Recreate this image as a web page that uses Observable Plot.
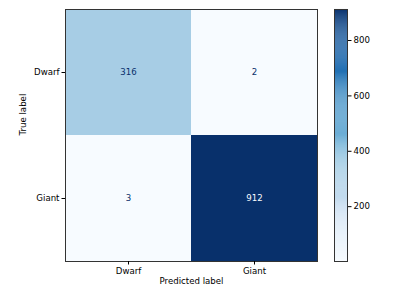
<!DOCTYPE html>
<html><head><meta charset="utf-8">
<script src="https://cdn.jsdelivr.net/npm/d3@7"></script>
<script src="https://cdn.jsdelivr.net/npm/@observablehq/plot@0.6"></script>
<style>
body{margin:0;background:#fff;}
#wrap{position:relative;width:397px;height:298px;}
#wrap svg{position:absolute;left:0;top:0;background:transparent;}
</style></head>
<body><div id="wrap"></div>
<script>
const trueLabels = ["Dwarf","Giant"];
const predLabels = ["Dwarf","Giant"];
const counts = [[316, 2],[3, 912]];
const cbTicks = [200,400,600,800];

const cells = [];
trueLabels.forEach((t,i)=>predLabels.forEach((p,j)=>cells.push({t,p,v:counts[i][j]})));
const vmin = d3.min(cells,d=>d.v), vmax = d3.max(cells,d=>d.v);
const thr = (vmin+vmax)/2;
const font = "DejaVu Sans, sans-serif";
const W=397,H=298;
const colorOpt = {type:"linear", scheme:"Blues", domain:[vmin,vmax]};

const heat = Plot.plot({
  width:W, height:H,
  marginLeft:65, marginRight:80, marginTop:9, marginBottom:37,
  style:{fontFamily:font, fontSize:"8.6px", color:"#000", background:"transparent"},
  x:{type:"band", domain:predLabels, padding:0, label:null},
  y:{type:"band", domain:trueLabels, padding:0, label:null},
  color:colorOpt,
  marks:[
    Plot.cell(cells,{x:"p",y:"t",fill:"v",inset:0}),
    Plot.text(cells,{x:"p",y:"t",text:d=>String(d.v),fill:d=>d.v>thr?"#f7fbff":"#08306b",fontSize:8.6}),
    Plot.frame({stroke:"#333",strokeWidth:1}),
    Plot.axisX({anchor:"bottom",tickSize:3.5,tickPadding:2.5,label:null,fontSize:8.6}),
    Plot.axisY({anchor:"left",tickSize:3.5,tickPadding:2.5,label:null,fontSize:8.6}),
    Plot.text(["Predicted label"],{frameAnchor:"bottom",dy:22,fontSize:8.6,fill:"#000"}),
    Plot.text(["True label"],{frameAnchor:"left",dx:-42,rotate:-90,fontSize:8.6,fill:"#000"})
  ]
});

const steps = d3.range(0,256).map(i=>vmin+(vmax-vmin)*i/256);
const dv = (vmax-vmin)/256;
const cbar = Plot.plot({
  width:W, height:H,
  marginLeft:334, marginRight:50, marginTop:9, marginBottom:37,
  style:{fontFamily:font, fontSize:"8.6px", color:"#000", background:"transparent"},
  x:{domain:[0,1], axis:null},
  y:{domain:[vmin,vmax], label:null},
  color:colorOpt,
  marks:[
    Plot.rect(steps,{x1:0,x2:1,y1:d=>d,y2:d=>d+dv*1.02,fill:d=>d}),
    Plot.frame({stroke:"#333",strokeWidth:1}),
    Plot.axisY({anchor:"right",ticks:cbTicks,tickSize:3.5,tickPadding:2.5,label:null,fontSize:8.6})
  ]
});

document.getElementById("wrap").append(heat, cbar);
</script></body></html>
